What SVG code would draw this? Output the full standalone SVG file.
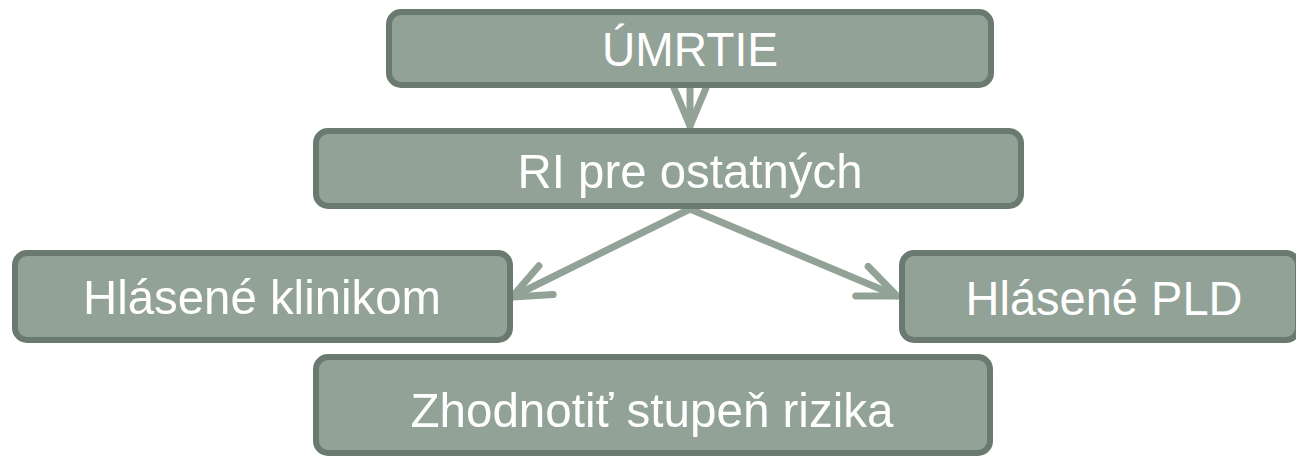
<svg xmlns="http://www.w3.org/2000/svg" width="1296" height="458" viewBox="0 0 1296 458">
<style>
.box{fill:#92a297;stroke:#6b7a70;stroke-width:6}
.lbl{fill:#ffffff;font-family:"Liberation Sans",Arial,sans-serif;font-size:49px;text-anchor:middle}
.con{fill:none;stroke:#92a297;stroke-width:7;stroke-linecap:round;stroke-linejoin:round}
</style>
<defs>
<marker id="chev" markerUnits="userSpaceOnUse" viewBox="-50 -25 60 50" refX="0" refY="0" markerWidth="60" markerHeight="50" orient="auto" overflow="visible">
<path d="M-38,-16 L0,0 L-38,16" fill="none" stroke="#92a297" stroke-width="7" stroke-linecap="round" stroke-linejoin="round"/>
</marker>
</defs>
<rect width="1296" height="458" fill="#ffffff"/>
<g id="connectors">
<line class="con" x1="690" y1="88" x2="690" y2="126" marker-end="url(#chev)"/>
<line class="con" x1="690" y1="209" x2="512" y2="297" marker-end="url(#chev)"/>
<line class="con" x1="690" y1="209" x2="897" y2="296" marker-end="url(#chev)"/>
</g>
<g id="n-umrtie">
<rect class="box" x="389" y="12" width="602" height="73" rx="12"/>
<text class="lbl" x="690" y="66" textLength="176" lengthAdjust="spacingAndGlyphs">ÚMRTIE</text>
</g>
<g id="n-ri">
<rect class="box" x="316" y="131" width="705" height="75" rx="12"/>
<text class="lbl" x="690" y="188" textLength="345" lengthAdjust="spacingAndGlyphs">RI pre ostatných</text>
</g>
<g id="n-klinikom">
<rect class="box" x="15" y="253" width="495" height="87" rx="12"/>
<text class="lbl" x="262" y="314" textLength="358" lengthAdjust="spacingAndGlyphs">Hlásené klinikom</text>
</g>
<g id="n-pld">
<rect class="box" x="902" y="253" width="396" height="87" rx="12"/>
<text class="lbl" x="1104" y="315" textLength="277" lengthAdjust="spacingAndGlyphs">Hlásené PLD</text>
</g>
<g id="n-zhodnotit">
<rect class="box" x="316" y="357" width="674" height="96" rx="12"/>
<text class="lbl" x="652" y="427" textLength="483" lengthAdjust="spacingAndGlyphs">Zhodnotiť stupeň rizika</text>
</g>
</svg>
